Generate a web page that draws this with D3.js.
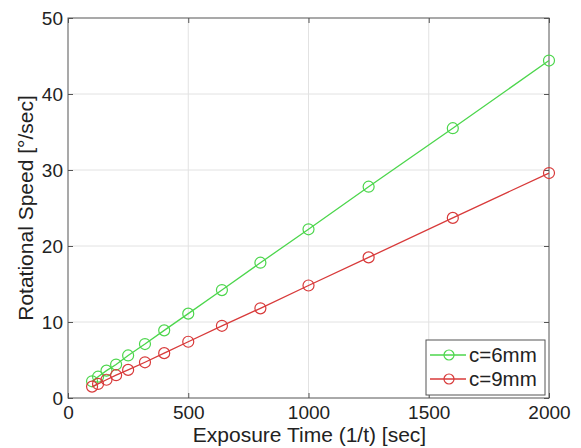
<!DOCTYPE html>
<html>
<head>
<meta charset="utf-8">
<script src="https://cdn.jsdelivr.net/npm/d3@7"></script>
<style>
  body { margin: 0; background: #fff; }
  text { font-family: "Liberation Sans", Arial, sans-serif; fill: #222; }
</style>
</head>
<body>
<svg id="chart" width="581" height="448"></svg>
<script>
var exposure = [100, 125, 160, 200, 250, 320, 400, 500, 640, 800, 1000, 1250, 1600, 2000]
var speed6 = [2.2, 2.8, 3.6, 4.4, 5.6, 7.1, 8.9, 11.1, 14.2, 17.8, 22.2, 27.8, 35.5, 44.4]
var speed9 = [1.5, 1.85, 2.4, 3.0, 3.7, 4.7, 5.9, 7.4, 9.5, 11.8, 14.8, 18.5, 23.7, 29.6]
var seriesNames = ["c=6mm", "c=9mm"]
var xTicks = [0, 500, 1000, 1500, 2000]
var yTicks = [0, 10, 20, 30, 40, 50]

var dim = { left: 68, right: 549, top: 18, bottom: 398 }
var colors = ["#4cd64c", "#d83a3a"]

var svg = d3.select("#chart")

var x = d3.scaleLinear().domain([0, 2000]).range([dim.left, dim.right])
var y = d3.scaleLinear().domain([0, 50]).range([dim.bottom, dim.top])

// grid
svg.append("g").selectAll("line")
  .data(xTicks.slice(1, -1))
  .enter().append("line")
    .attr("x1", d => x(d)).attr("x2", d => x(d))
    .attr("y1", dim.top).attr("y2", dim.bottom)
    .attr("stroke", "#e2e2e2")
svg.append("g").selectAll("line")
  .data(yTicks.slice(1, -1))
  .enter().append("line")
    .attr("y1", d => y(d)).attr("y2", d => y(d))
    .attr("x1", dim.left).attr("x2", dim.right)
    .attr("stroke", "#e2e2e2")

// axes (ticks inward)
var axisStyle = g => {
  g.select(".domain").remove()
  g.selectAll("line").attr("stroke", "#555")
  g.attr("font-family", null)
}
svg.append("g")
  .attr("transform", `translate(0,${dim.bottom})`)
  .call(d3.axisBottom(x).tickValues(xTicks).tickSize(-5).tickPadding(8).tickFormat(d3.format("d")))
  .call(axisStyle)
  .selectAll("text").style("font-size", "19px").attr("fill", "#222")
svg.append("g")
  .attr("transform", `translate(0,${dim.top})`)
  .call(d3.axisTop(x).tickValues(xTicks).tickSize(-5).tickFormat(""))
  .call(axisStyle)
svg.append("g")
  .attr("transform", `translate(${dim.left},0)`)
  .call(d3.axisLeft(y).tickValues(yTicks).tickSize(-5).tickPadding(5))
  .call(axisStyle)
  .selectAll("text").style("font-size", "19px").attr("fill", "#222")
svg.append("g")
  .attr("transform", `translate(${dim.right},0)`)
  .call(d3.axisRight(y).tickValues(yTicks).tickSize(-5).tickFormat(""))
  .call(axisStyle)

svg.append("rect")
  .attr("x", dim.left).attr("y", dim.top)
  .attr("width", dim.right - dim.left).attr("height", dim.bottom - dim.top)
  .attr("fill", "none").attr("stroke", "#555").attr("stroke-width", 1)

// series
var line = d3.line().x(d => x(d[0])).y(d => y(d[1]))
;[speed6, speed9].forEach(function(vals, i){
  var pts = exposure.map((e, j) => [e, vals[j]])
  svg.append("path")
    .datum(pts)
    .attr("d", line)
    .attr("fill", "none")
    .attr("stroke", colors[i])
    .attr("stroke-width", 1.3)
  svg.append("g").selectAll("circle")
    .data(pts)
    .enter().append("circle")
      .attr("cx", d => x(d[0])).attr("cy", d => y(d[1]))
      .attr("r", 5.5)
      .attr("fill", "none")
      .attr("stroke", colors[i])
      .attr("stroke-width", 1.2)
})

// axis titles
svg.append("text")
  .attr("x", (dim.left + dim.right) / 2 + 1).attr("y", 442)
  .attr("text-anchor", "middle")
  .style("font-size", "21px")
  .text("Exposure Time (1/t) [sec]")
svg.append("text")
  .attr("transform", `translate(33,${(dim.top + dim.bottom) / 2}) rotate(-90)`)
  .attr("text-anchor", "middle")
  .style("font-size", "21px")
  .text("Rotational Speed [°/sec]")

// legend
var lg = svg.append("g").attr("transform", "translate(426,340)")
lg.append("rect")
  .attr("width", 119).attr("height", 55)
  .attr("fill", "#fff").attr("stroke", "#555")
seriesNames.forEach(function(name, i){
  var ly = 15 + i * 24
  lg.append("line")
    .attr("x1", 4).attr("x2", 40).attr("y1", ly).attr("y2", ly)
    .attr("stroke", colors[i]).attr("stroke-width", 1.3)
  lg.append("circle")
    .attr("cx", 23).attr("cy", ly).attr("r", 5)
    .attr("fill", "none").attr("stroke", colors[i]).attr("stroke-width", 1.2)
  lg.append("text")
    .attr("x", 43).attr("y", ly + 7)
    .style("font-size", "20.5px")
    .text(name)
})
</script>
</body>
</html>
